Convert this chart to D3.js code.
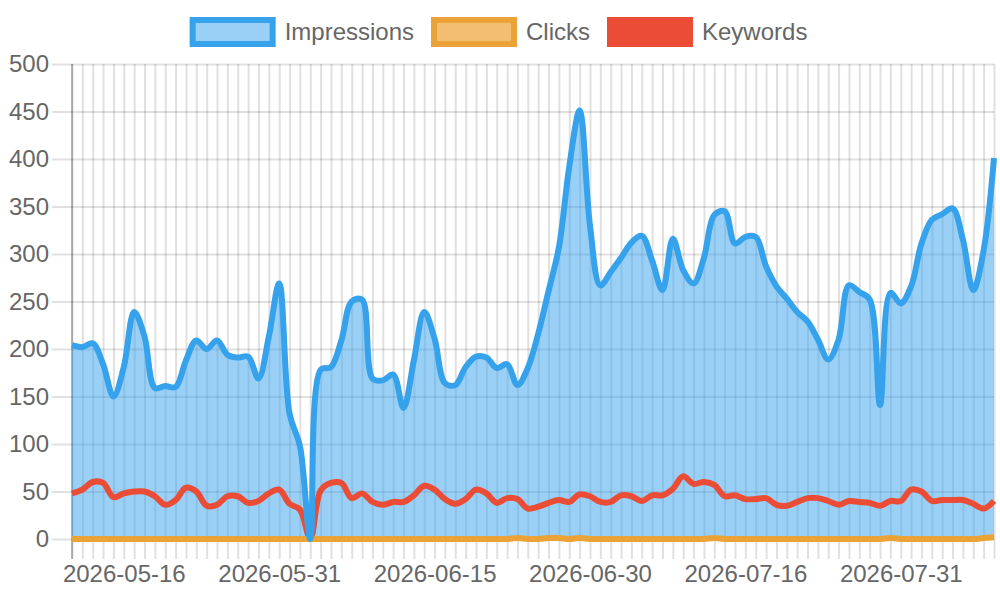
<!DOCTYPE html>
<html>
<head>
<meta charset="utf-8">
<script src="https://cdn.jsdelivr.net/npm/d3@7"></script>
<style>
body { margin: 0; background: #fff; }
text { font-family: "Liberation Sans", Arial, sans-serif; }
</style>
</head>
<body>
<script>
//Categories: one label per day, 2026-05-11 .. 2026-08-09 (one day missing in July)
var firstDay = new Date(Date.UTC(2026, 4, 11));
var endDay = new Date(Date.UTC(2026, 7, 10));
var skippedDays = ["2026-07-08"];
var fmt = d3.utcFormat("%Y-%m-%d");
var dates = d3.utcDay.range(firstDay, endDay).map(fmt)
  .filter(function (d) { return skippedDays.indexOf(d) < 0; });

//Labels shown under the x axis
var tickLabels = ["2026-05-16", "2026-05-31", "2026-06-15", "2026-06-30", "2026-07-16", "2026-07-31"];

//Series values
var impressions = [204, 202, 206, 184, 150, 181, 239, 213, 159, 161,
  160, 188, 209, 200, 209, 194, 191, 192, 169, 213,
  269, 132, 98, 0, 178, 181, 209, 250, 252, 169,
  167, 173, 138, 188, 239, 211, 164, 162, 181, 192,
  191, 180, 184, 162, 180, 216, 261, 307, 392, 451,
  330, 267, 281, 296, 312, 319, 293, 262, 316, 283,
  269, 296, 341, 345, 311, 318, 318, 287, 266, 253,
  239, 229, 210, 189, 210, 267, 260, 252, 141, 259,
  248, 266, 311, 336, 342, 348, 315, 262, 304, 401];

var clicks = [0, 0, 0, 0, 0, 0, 0, 0, 0, 0,
  0, 0, 0, 0, 0, 0, 0, 0, 0, 0,
  0, 0, 0, 0, 0, 0, 0, 0, 0, 0,
  0, 0, 0, 0, 0, 0, 0, 0, 0, 0,
  0, 0, 0, 1, 0, 0, 1, 1, 0, 1,
  0, 0, 0, 0, 0, 0, 0, 0, 0, 0,
  0, 0, 1, 0, 0, 0, 0, 0, 0, 0,
  0, 0, 0, 0, 0, 0, 0, 0, 0, 1,
  0, 0, 0, 0, 0, 0, 0, 0, 1, 2];

var keywords = [48, 52, 60, 59, 44, 48, 50, 50, 45, 36,
  41, 54, 50, 35, 36, 45, 45, 38, 40, 48,
  52, 37, 31, 0, 51, 59, 59, 43, 48, 39,
  36, 39, 39, 46, 56, 52, 42, 37, 42, 52,
  48, 38, 43, 42, 32, 34, 38, 41, 39, 47,
  45, 39, 39, 46, 45, 40, 46, 46, 53, 66,
  58, 60, 57, 45, 46, 42, 42, 43, 36, 35,
  39, 43, 43, 40, 36, 40, 39, 38, 35, 40,
  40, 52, 50, 40, 41, 41, 41, 37, 32, 40];

var seriesNames = ["Impressions", "Clicks", "Keywords"];
var seriesLines = ["rgb(54,162,235)", "rgb(235,162,54)", "rgb(235,76,54)"];
var seriesFills = ["rgba(54,162,235,0.5)", "rgba(235,162,54,0.7)", "rgb(235,76,54)"];

//Margins, chart.js-like look
var margin = {top: 64, right: 6, bottom: 61, left: 72};
var w = 1000 - margin.left - margin.right;
var h = 600 - margin.top - margin.bottom;
var gridColor = "rgba(0,0,0,0.12)";
var textColor = "#666";

var svg = d3.select("body")
  .append("svg")
  .attr("width", 1000)
  .attr("height", 600);

var g = svg.append("g")
  .attr("transform", "translate(" + margin.left + "," + margin.top + ")");

var x = d3.scalePoint()
  .domain(dates)
  .range([0, w]);

var y = d3.scaleLinear()
  .domain([0, 500])
  .range([h, 0]);

//Y axis with grid lines across the chart
var yAxis = g.append("g")
  .call(d3.axisLeft(y).ticks(10).tickSize(20).tickPadding(3));
yAxis.select(".domain").remove();
yAxis.selectAll(".tick line")
  .attr("x1", w)
  .attr("stroke", gridColor)
  .attr("stroke-width", 2);
yAxis.selectAll(".tick text")
  .attr("font-size", "24px")
  .attr("font-family", null)
  .attr("fill", textColor);
yAxis.attr("font-family", null).attr("font-size", null);

//X axis: a grid line per day, labels only on some days
var xAxis = g.append("g")
  .attr("transform", "translate(0," + h + ")")
  .call(d3.axisBottom(x)
    .tickSize(20)
    .tickPadding(6)
    .tickFormat(function (d) { return tickLabels.indexOf(d) >= 0 ? d : ""; }));
xAxis.select(".domain").remove();
xAxis.selectAll(".tick line")
  .attr("y1", -h)
  .attr("stroke", gridColor)
  .attr("stroke-width", 2);
xAxis.selectAll(".tick text")
  .attr("font-size", "24px")
  .attr("fill", textColor);
xAxis.attr("font-family", null).attr("font-size", null);

//Left border line
g.append("line")
  .attr("x1", 0).attr("x2", 0)
  .attr("y1", 0).attr("y2", h + 20)
  .attr("stroke", "rgba(0,0,0,0.25)")
  .attr("stroke-width", 2);

var curve = d3.curveCatmullRom.alpha(0.5);

var area = d3.area()
  .x(function (d, i) { return x(dates[i]); })
  .y0(h)
  .y1(function (d) { return y(d); })
  .curve(curve);

var line = d3.line()
  .x(function (d, i) { return x(dates[i]); })
  .y(function (d) { return y(d); })
  .curve(curve);

//Fill first, then lines (last series below, first on top)
g.append("path")
  .datum(impressions)
  .attr("d", area)
  .attr("fill", seriesFills[0]);

[[keywords, 2], [clicks, 1], [impressions, 0]].forEach(function (s) {
  g.append("path")
    .datum(s[0])
    .attr("d", line)
    .attr("fill", "none")
    .attr("stroke", seriesLines[s[1]])
    .attr("stroke-width", 6)
    .attr("stroke-linejoin", "round");
});

//Legend, centred at the top
var boxW = 80, boxH = 24, gap = 12, itemPad = 20;
var legend = svg.append("g");
var items = legend.selectAll("g")
  .data(seriesNames)
  .enter()
  .append("g");

items.append("rect")
  .attr("width", boxW)
  .attr("height", boxH)
  .attr("fill", function (d, i) { return seriesFills[i]; })
  .attr("stroke", function (d, i) { return seriesLines[i]; })
  .attr("stroke-width", 6);

items.append("text")
  .text(function (d) { return d; })
  .attr("x", boxW + gap)
  .attr("y", boxH / 2)
  .attr("dy", "0.35em")
  .attr("font-size", "24px")
  .attr("fill", textColor);

var widths = [];
items.each(function () {
  widths.push(boxW + gap + d3.select(this).select("text").node().getComputedTextLength());
});
var total = d3.sum(widths) + itemPad * (widths.length - 1);
var pos = 500 - total / 2;
items.attr("transform", function (d, i) {
  var t = "translate(" + pos + ",20)";
  pos += widths[i] + itemPad;
  return t;
});
</script>
</body>
</html>
